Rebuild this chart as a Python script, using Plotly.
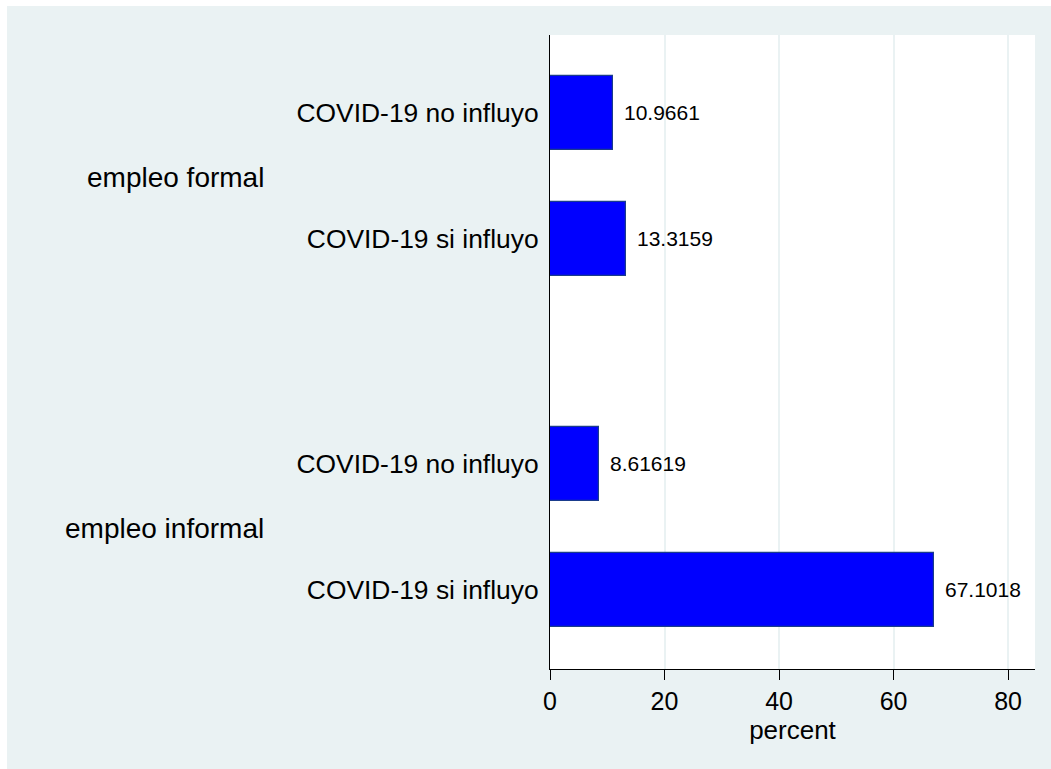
import plotly.graph_objects as go

# ---- data ----
groups = ["empleo formal", "empleo informal"]
categories = ["COVID-19 no influyo", "COVID-19 si influyo"]
values_formal = [10.9661, 13.3159]
values_informal = [8.61619, 67.1018]
x_ticks = [0, 20, 40, 60, 80]
x_title = "percent"

# ---- layout constants ----
W, H = 1051, 769
ML, MR, MT, MB = 550, 16, 35, 100
FONT = "Liberation Sans, Arial, sans-serif"
BG = "#EAF2F3"
BAR = "#0000FF"
BAR_EDGE = "#1A3C8C"
GROUP_GAP = 1.786  # extra spacing between groups (in category units)

series = [values_formal, values_informal]
ys, xs, texts, tickvals, ticktext = [], [], [], [], []
group_pos = []
for g, vals in enumerate(series):
    pos_list = []
    for i, v in enumerate(vals):
        p = g * (1 + GROUP_GAP) + i
        ys.append(p)
        xs.append(v)
        texts.append(f"{v:.6g}")
        tickvals.append(p)
        ticktext.append(categories[i])
        pos_list.append(p)
    group_pos.append(sum(pos_list) / len(pos_list))

fig = go.Figure()
fig.add_trace(go.Bar(
    x=xs, y=ys, orientation="h", width=0.59,
    marker=dict(color=BAR, line=dict(color=BAR_EDGE, width=1.2)),
    hoverinfo="skip", showlegend=False,
))

annotations = []
for x, y, t in zip(xs, ys, texts):
    annotations.append(dict(x=x, y=y, xref="x", yref="y", text=t, showarrow=False,
                            xanchor="left", yanchor="middle", xshift=9,
                            font=dict(family=FONT, size=21, color="black")))
plot_w = W - ML - MR
plot_h = H - MT - MB
for gname, gp in zip(groups, group_pos):
    annotations.append(dict(x=(266 - ML) / plot_w, y=gp, xref="paper", yref="y", text=gname,
                            showarrow=False, xanchor="right", yanchor="middle", yshift=-2,
                            font=dict(family=FONT, size=28, color="black")))

shapes = [
    # thin white strips framing the light graph region (left and top)
    dict(type="rect", xref="paper", yref="paper", x0=-ML / plot_w, x1=(7 - ML) / plot_w,
         y0=-MB / plot_h, y1=1 + MT / plot_h, fillcolor="white", line=dict(width=0), layer="below"),
    dict(type="rect", xref="paper", yref="paper", x0=-ML / plot_w, x1=1 + MR / plot_w,
         y0=1 + (MT - 6) / plot_h, y1=1 + MT / plot_h, fillcolor="white", line=dict(width=0), layer="below"),
]

fig.update_layout(
    width=W, height=H,
    margin=dict(l=ML, r=MR, t=MT, b=MB, pad=0),
    paper_bgcolor=BG, plot_bgcolor="white",
    font=dict(family=FONT, color="black"),
    annotations=annotations, shapes=shapes,
    bargap=0,
)
fig.update_xaxes(
    range=[0, 84.7], tickvals=x_ticks, ticktext=[str(t) for t in x_ticks],
    ticks="outside", ticklen=10, tickwidth=1.3, tickcolor="black",
    tickfont=dict(family=FONT, size=25, color="black"),
    showline=True, linecolor="black", linewidth=1.3,
    showgrid=True, gridcolor=BG, gridwidth=1.5, zeroline=False,
    title=dict(text=x_title, font=dict(family=FONT, size=26, color="black"), standoff=0),
)
fig.update_yaxes(
    range=[4.414, -0.617], tickvals=tickvals, ticktext=ticktext,
    ticks="", tickfont=dict(family=FONT, size=26.4, color="black"), ticklabelstandoff=5,
    showline=True, linecolor="black", linewidth=1.3,
    showgrid=False, zeroline=False,
)

fig.write_html(
    "out.html",
    config={"displayModeBar": False},
    post_script="document.body.style.margin='0';document.body.style.overflow='hidden';",
)
